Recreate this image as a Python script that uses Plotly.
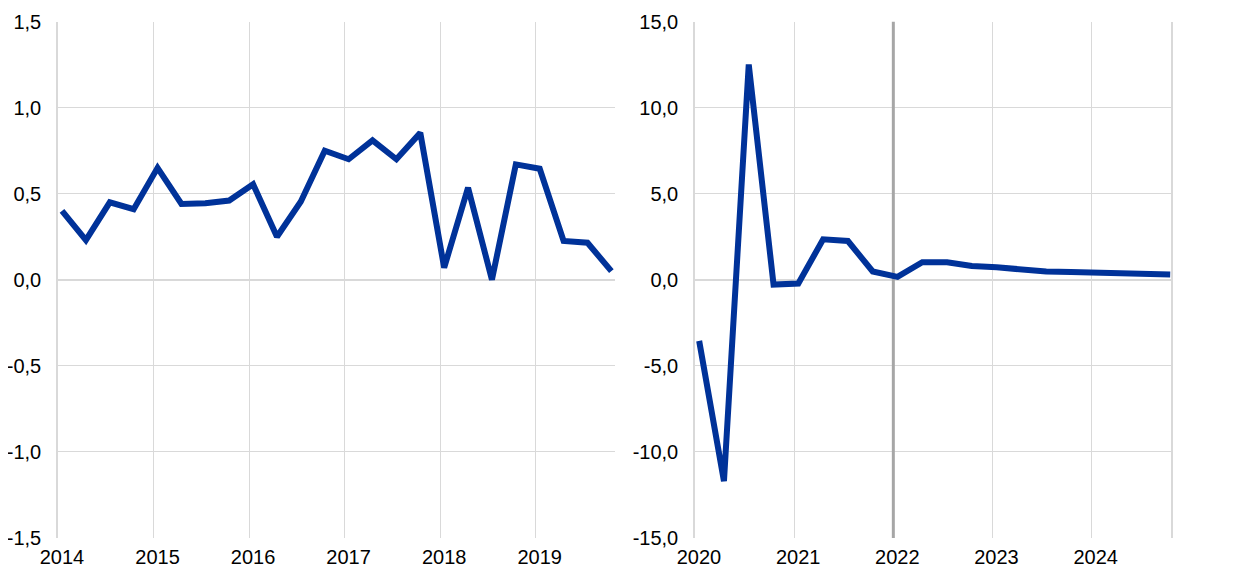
import plotly.graph_objects as go

# ---- data ----
years_left = [2014, 2015, 2016, 2017, 2018, 2019]
quarters_left = [f"{y}Q{q}" for y in years_left for q in range(1, 5)]
values_left = [0.40, 0.23, 0.45, 0.41, 0.65, 0.44, 0.445, 0.46,
               0.555, 0.25, 0.455, 0.75, 0.70, 0.81, 0.70, 0.853,
               0.07, 0.535, 0.0, 0.67, 0.645, 0.225, 0.215, 0.05]

years_right = [2020, 2021, 2022, 2023, 2024]
quarters_right = [f"{y}Q{q}" for y in years_right for q in range(1, 5)]
values_right = [-3.55, -11.7, 12.5, -0.28, -0.22, 2.35, 2.25, 0.48,
                0.17, 1.02, 1.02, 0.8, 0.72, 0.57, 0.48, 0.45,
                0.41, 0.37, 0.33, 0.31]

yticks_left = [-1.5, -1.0, -0.5, 0.0, 0.5, 1.0, 1.5]
yticks_right = [-15, -10, -5, 0, 5, 10, 15]
projection_start = 2022


def to_x(label):
    y, q = label.split("Q")
    return int(y) + (int(q) - 1) / 4 + 0.042


def fmt(v):
    return f"{v:.1f}".replace(".", ",")


BLUE = "#003299"
GRID = "#d9d9d9"
FONT = dict(family="Liberation Sans, Arial, sans-serif", size=20, color="#000000")

W, H = 1240, 584
OFF = 8  # default page body margin

fig = go.Figure()
fig.add_trace(go.Scatter(x=[to_x(q) for q in quarters_left], y=values_left,
                         mode="lines", line=dict(color=BLUE, width=6),
                         xaxis="x", yaxis="y", showlegend=False))
fig.add_trace(go.Scatter(x=[to_x(q) for q in quarters_right], y=values_right,
                         mode="lines", line=dict(color=BLUE, width=6),
                         xaxis="x2", yaxis="y2", showlegend=False))

fig.add_shape(type="line", xref="x2", yref="y2", x0=projection_start, x1=projection_start,
              y0=-15, y1=15, line=dict(color="#a6a6a6", width=3), layer="between")

common_x = dict(showgrid=True, gridcolor=GRID, gridwidth=1, zeroline=False,
                ticks="outside", ticklen=1, tickcolor="rgba(0,0,0,0)",
                tickfont=FONT, ticklabelshift=4, showline=False, automargin=False)
common_y = dict(showgrid=True, gridcolor=GRID, gridwidth=1, zeroline=True,
                zerolinecolor=GRID, zerolinewidth=1.5, ticks="outside", ticklen=11,
                tickcolor="rgba(0,0,0,0)", tickfont=FONT,
                showline=True, linecolor=GRID, linewidth=1.5, automargin=False)

ydom = [(H - (538 - OFF)) / H, (H - (21.5 - OFF)) / H]

fig.update_layout(
    width=W, height=H,
    margin=dict(l=0, r=0, t=0, b=0, autoexpand=False),
    paper_bgcolor="white", plot_bgcolor="white",
    font=FONT,
    xaxis=dict(domain=[(58 - OFF) / W, (615 - OFF) / W], range=[2014, 2019.83],
               tickvals=years_left, ticktext=[str(y) for y in years_left],
               anchor="y", **common_x),
    yaxis=dict(domain=ydom, range=[-1.5, 1.5],
               tickvals=yticks_left, ticktext=[fmt(v) for v in yticks_left],
               anchor="x", **common_y),
    xaxis2=dict(domain=[(695 - OFF) / W, (1171 - OFF) / W], range=[2020, 2024.8],
                tickvals=years_right, ticktext=[str(y) for y in years_right],
                anchor="y2", **common_x),
    yaxis2=dict(domain=ydom, range=[-15, 15],
                tickvals=yticks_right, ticktext=[fmt(v) for v in yticks_right],
                anchor="x2", mirror=True, **common_y),
)

fig.write_html("out.html")
